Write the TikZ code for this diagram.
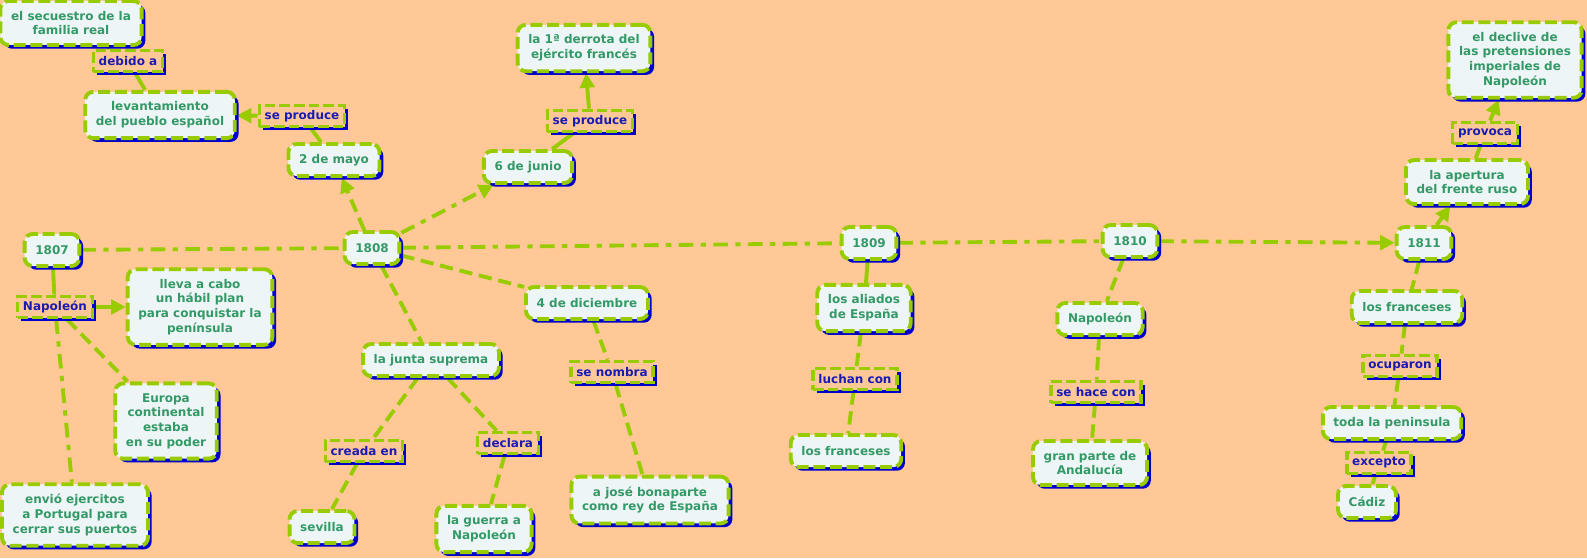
\documentclass[tikz,border=0pt]{standalone}
\usepackage{fontspec}
\setmainfont{DejaVu Sans}
\usepackage{tikz}
\usepackage{xcolor}
\usetikzlibrary{arrows.meta,positioning,shadows,backgrounds}
\definecolor{peach}{HTML}{FFC896}
\definecolor{boxfill}{HTML}{EEF5F6}
\definecolor{limegreen}{HTML}{99CC00}
\definecolor{shadowblue}{HTML}{0000CC}
\definecolor{conceptink}{HTML}{339966}
\definecolor{linkink}{HTML}{1A1AB4}
\tikzset{
  concept/.style={draw=limegreen,fill=boxfill,line width=2.9pt,
                  dash pattern=on 9pt off 3.5pt,rounded corners=6pt,
                  minimum height=24pt,inner xsep=8pt,inner ysep=7.5pt,
                  align=center,text=conceptink,
                  font=\bfseries\fontsize{9}{11}\selectfont,
                  drop shadow={shadow xshift=2.8pt,shadow yshift=-2.8pt,
                               fill=shadowblue,opacity=1}},
  linkbox/.style={draw=limegreen,fill=peach,line width=2.6pt,
                  dash pattern=on 8pt off 3pt,
                  minimum height=16pt,inner xsep=4pt,inner ysep=2.5pt,
                  align=center,text=linkink,
                  font=\bfseries\fontsize{9}{11}\selectfont,
                  drop shadow={shadow xshift=2.8pt,shadow yshift=-2.8pt,
                               fill=shadowblue,opacity=1}},
  solidcon/.style={draw=limegreen,line width=2.9pt},
  dashcon/.style={draw=limegreen,line width=2.9pt,dash pattern=on 10pt off 5pt},
  dotcon/.style={draw=limegreen,line width=2.9pt,
                 dash pattern=on 11pt off 5.5pt on 4pt off 5.5pt},
  tip/.style={-{Triangle[length=11pt,width=11pt]}}
}
\begin{document}
\begin{tikzpicture}[x=0.75pt,y=-0.75pt]
  \useasboundingbox (0,0) rectangle (1587,558);

  \node[concept] (y1807) at (52,250) {1807};
  \node[concept] (y1808) at (372,248) {1808};
  \node[concept] (y1809) at (869,243) {1809};
  \node[concept] (y1810) at (1130,241) {1810};
  \node[concept] (y1811) at (1424,243) {1811};

  \node[linkbox] (napA) at (55,307) {Napoleón};
  \node[concept] (lleva) at (200,307) {lleva a cabo\\un hábil plan\\para conquistar la\\península};
  \node[concept] (europa) at (166,421) {Europa\\continental\\estaba\\en su poder};
  \node[concept] (envio) at (75,515) {envió ejercitos\\a Portugal para\\cerrar sus puertos};

  \node[concept] (secuestro) at (71,23) {el secuestro de la\\familia real};
  \node[linkbox] (debido) at (128,61) {debido a};
  \node[concept] (levanta) at (160,115) {levantamiento\\del pueblo español};
  \node[linkbox] (produceA) at (302,116) {se produce};
  \node[concept] (mayo) at (334,160) {2 de mayo};
  \node[concept] (junio) at (528,167) {6 de junio};
  \node[linkbox] (produceB) at (590,121) {se produce};
  \node[concept] (derrota) at (584,48) {la 1ª derrota del\\ejército francés};
  \node[concept] (diciembre) at (587,303) {4 de diciembre};
  \node[linkbox] (nombra) at (612,372) {se nombra};
  \node[concept] (bonaparte) at (650,500) {a josé bonaparte\\como rey de España};
  \node[concept] (junta) at (431,360) {la junta suprema};
  \node[linkbox] (creada) at (364,451) {creada en};
  \node[linkbox] (declara) at (508,443) {declara};
  \node[concept] (sevilla) at (322,527) {sevilla};
  \node[concept] (guerra) at (484,529) {la guerra a\\Napoleón};

  \node[concept] (aliados) at (864,308) {los aliados\\de España};
  \node[linkbox] (luchan) at (855,379) {luchan con};
  \node[concept] (francesesA) at (846,451) {los franceses};

  \node[concept] (napB) at (1100,319) {Napoleón};
  \node[linkbox] (hace) at (1096,392) {se hace con};
  \node[concept] (andalucia) at (1090,463) {gran parte de\\Andalucía};

  \node[concept] (apertura) at (1467,182) {la apertura\\del frente ruso};
  \node[linkbox] (provoca) at (1485,133) {provoca};
  \node[concept] (declive) at (1515,60) {el declive de\\las pretensiones\\imperiales de\\Napoleón};
  \node[concept] (francesesB) at (1407,307) {los franceses};
  \node[linkbox] (ocuparon) at (1400,366) {ocuparon};
  \node[concept] (peninsula) at (1392,423) {toda la peninsula};
  \node[linkbox] (excepto) at (1379,463) {excepto};
  \node[concept] (cadiz) at (1367,502) {Cádiz};

  \begin{scope}[on background layer]
  \fill[peach] (0,0) rectangle (1587,558);

  \draw[dotcon] (y1807) -- (y1808);
  \draw[dotcon] (y1808) -- (y1809);
  \draw[dotcon] (y1809) -- (y1810);
  \draw[dotcon,tip] (y1810) -- (y1811);

  \draw[solidcon] (y1807) -- (napA);
  \draw[solidcon,tip] (napA) -- (lleva);
  \draw[dashcon] (napA) -- (europa);
  \draw[dotcon] (napA) -- (envio);

  \draw[dashcon,tip] (y1808) -- (mayo);
  \draw[solidcon] (mayo) -- (produceA);
  \draw[solidcon,tip] (produceA) -- (levanta);
  \draw[solidcon] (levanta) -- (debido);
  \draw[solidcon] (debido) -- (secuestro);
  \draw[dotcon,tip] (y1808) -- (junio);
  \draw[solidcon] (junio) -- (produceB);
  \draw[solidcon,tip] (produceB) -- (derrota);
  \draw[dashcon] (y1808) -- (diciembre);
  \draw[dashcon] (diciembre) -- (nombra);
  \draw[dashcon] (nombra) -- (bonaparte);
  \draw[dashcon] (y1808) -- (junta);
  \draw[dashcon] (junta) -- (creada);
  \draw[dashcon] (creada) -- (sevilla);
  \draw[dashcon] (junta) -- (declara);
  \draw[dashcon] (declara) -- (guerra);

  \draw[solidcon] (y1809) -- (aliados);
  \draw[dashcon] (aliados) -- (luchan);
  \draw[dashcon] (luchan) -- (francesesA);

  \draw[dashcon] (y1810) -- (napB);
  \draw[dashcon] (napB) -- (hace);
  \draw[dashcon] (hace) -- (andalucia);

  \draw[solidcon,tip] (y1811) -- (apertura);
  \draw[solidcon] (apertura) -- (provoca);
  \draw[solidcon,tip] (provoca) -- (declive);
  \draw[dashcon] (y1811) -- (francesesB);
  \draw[dashcon] (francesesB) -- (ocuparon);
  \draw[dashcon] (ocuparon) -- (peninsula);
  \draw[solidcon] (peninsula) -- (excepto);
  \draw[solidcon] (excepto) -- (cadiz);
  \end{scope}
\end{tikzpicture}
\end{document}
